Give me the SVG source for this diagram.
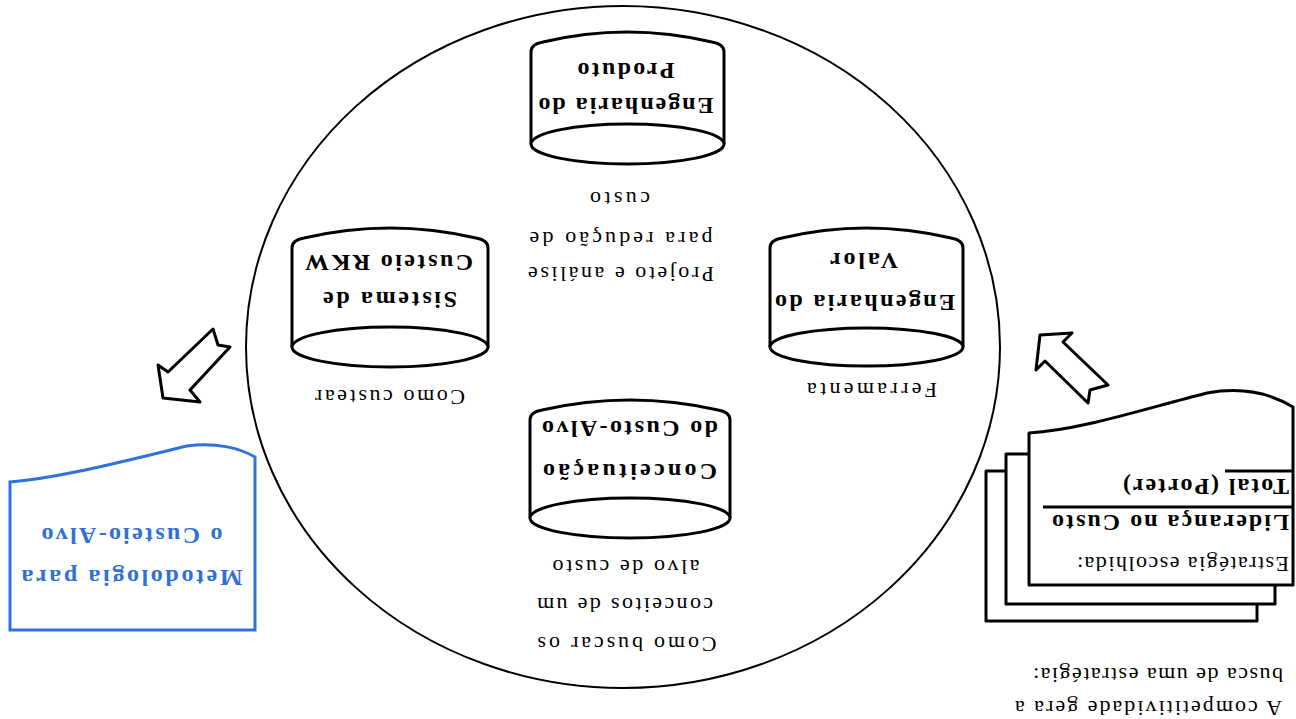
<svg xmlns="http://www.w3.org/2000/svg" width="1296" height="719" viewBox="0 0 1296 719">
<style>
.ln{fill:#fff;stroke:#000;stroke-width:3;stroke-linejoin:round}
.cir{fill:none;stroke:#000;stroke-width:2}
.t{font-family:"Liberation Serif","Times New Roman",serif;font-size:22px;fill:#000}
.b{font-family:"Liberation Serif","Times New Roman",serif;font-size:24px;font-weight:bold;fill:#000}
.blue{fill:#2f6fd8}
.bbox{fill:#fff;stroke:#2f72dc;stroke-width:3}
</style>
<rect width="1296" height="719" fill="#fff"/>
<ellipse class="cir" cx="623" cy="347" rx="377" ry="341"/>

<g id="cyl-produto">
<path class="ln" d="M531,144 V52 Q531,44 543,42 Q627,22 712,42 Q724,44 724,52 V144"/>
<ellipse class="ln" cx="627.5" cy="144" rx="96.5" ry="20"/>
<text class="b" x="626" y="98" transform="rotate(180 626 98)" text-anchor="middle" textLength="175" lengthAdjust="spacing">Engenharia do</text>
<text class="b" x="626" y="63" transform="rotate(180 626 63)" text-anchor="middle" textLength="97" lengthAdjust="spacing">Produto</text>
</g>
<g id="lbl-projeto">
<text class="t" x="620" y="192" transform="rotate(180 620 192)" text-anchor="middle" textLength="60" lengthAdjust="spacing">custo</text>
<text class="t" x="621" y="232" transform="rotate(180 621 232)" text-anchor="middle" textLength="183" lengthAdjust="spacing">para redução de</text>
<text class="t" x="621" y="267" transform="rotate(180 621 267)" text-anchor="middle" textLength="186" lengthAdjust="spacing">Projeto e análise</text>
</g>

<g id="cyl-rkw">
<path class="ln" d="M292,347 V248 Q292,240 304,238 Q390,218 476,238 Q488,240 488,248 V347"/>
<ellipse class="ln" cx="390" cy="347" rx="98" ry="20"/>
<text class="b" x="390" y="292" transform="rotate(180 390 292)" text-anchor="middle" textLength="134" lengthAdjust="spacing">Sistema de</text>
<text class="b" x="389" y="255" transform="rotate(180 389 255)" text-anchor="middle" textLength="168" lengthAdjust="spacing">Custeio RKW</text>
<text class="t" x="390" y="390" transform="rotate(180 390 390)" text-anchor="middle" textLength="150" lengthAdjust="spacing">Como custear</text>
</g>

<g id="cyl-valor">
<path class="ln" d="M770,347 V248 Q770,240 782,238 Q866,218 951,238 Q963,240 963,248 V347"/>
<ellipse class="ln" cx="866.5" cy="347" rx="96.5" ry="19"/>
<text class="b" x="865" y="295" transform="rotate(180 865 295)" text-anchor="middle" textLength="180" lengthAdjust="spacing">Engenharia do</text>
<text class="b" x="864" y="253" transform="rotate(180 864 253)" text-anchor="middle" textLength="68" lengthAdjust="spacing">Valor</text>
<text class="t" x="872" y="383" transform="rotate(180 872 383)" text-anchor="middle" textLength="130" lengthAdjust="spacing">Ferramenta</text>
</g>

<g id="cyl-conceituacao">
<path class="ln" d="M530,518 V420 Q530,412 542,410 Q630,390 718,410 Q730,412 730,420 V518"/>
<ellipse class="ln" cx="630" cy="518" rx="100" ry="20"/>
<text class="b" x="630" y="464" transform="rotate(180 630 464)" text-anchor="middle" textLength="174" lengthAdjust="spacing">Conceituação</text>
<text class="b" x="630" y="421" transform="rotate(180 630 421)" text-anchor="middle" textLength="176" lengthAdjust="spacing">do Custo-Alvo</text>
</g>
<g id="lbl-buscar">
<text class="t" x="626" y="560" transform="rotate(180 626 560)" text-anchor="middle" textLength="147" lengthAdjust="spacing">alvo de custo</text>
<text class="t" x="625" y="598" transform="rotate(180 625 598)" text-anchor="middle" textLength="176" lengthAdjust="spacing">conceitos de um</text>
<text class="t" x="627" y="637" transform="rotate(180 627 637)" text-anchor="middle" textLength="179" lengthAdjust="spacing">Como buscar os</text>
</g>

<g id="estrategia">
<rect class="ln" x="986" y="471" width="271" height="150"/>
<rect class="ln" x="1006" y="454" width="269" height="150"/>
<path class="ln" d="M1029,585 V433 C1080,430 1140,410 1207,393 C1240,387 1270,393 1293,407 V585 Z"/>
<text class="t" x="1289" y="557" transform="rotate(180 1289 557)" textLength="212" lengthAdjust="spacing">Estratégia escolhida:</text>
<text class="b" x="1289" y="515" transform="rotate(180 1289 515)" textLength="237" lengthAdjust="spacing">Liderança no Custo</text>
<line x1="1043" y1="507" x2="1292" y2="507" stroke="#000" stroke-width="3"/>
<text class="b" x="1289" y="479" transform="rotate(180 1289 479)" textLength="166" lengthAdjust="spacing">Total (Porter)</text>
<line x1="1225" y1="471" x2="1292" y2="471" stroke="#000" stroke-width="3"/>
</g>
<g id="lbl-competitividade">
<text class="t" x="1283" y="668" transform="rotate(180 1283 668)" textLength="250" lengthAdjust="spacing">busca de uma estratégia:</text>
<text class="t" x="1282" y="701" transform="rotate(180 1282 701)" textLength="267" lengthAdjust="spacing">A competitividade gera a</text>
</g>

<g id="metodologia">
<path class="bbox" d="M10,630 V482 C60,478 120,462 187,446 C215,442 240,448 255,457 V630 Z"/>
<text class="b blue" x="132" y="570" transform="rotate(180 132 570)" text-anchor="middle" textLength="221" lengthAdjust="spacing">Metodologia para</text>
<text class="b blue" x="132" y="528" transform="rotate(180 132 528)" text-anchor="middle" textLength="181" lengthAdjust="spacing">o Custeio-Alvo</text>
</g>

<g id="connectors">
<polygon class="ln" points="213,329 218,345 230,347 190,390 200,402 163,398 158,365 168,372"/>
<polygon class="ln" points="1040,335 1072,333 1063,342 1108,385 1090,390 1088,403 1045,361 1036,370"/>
</g>
</svg>
